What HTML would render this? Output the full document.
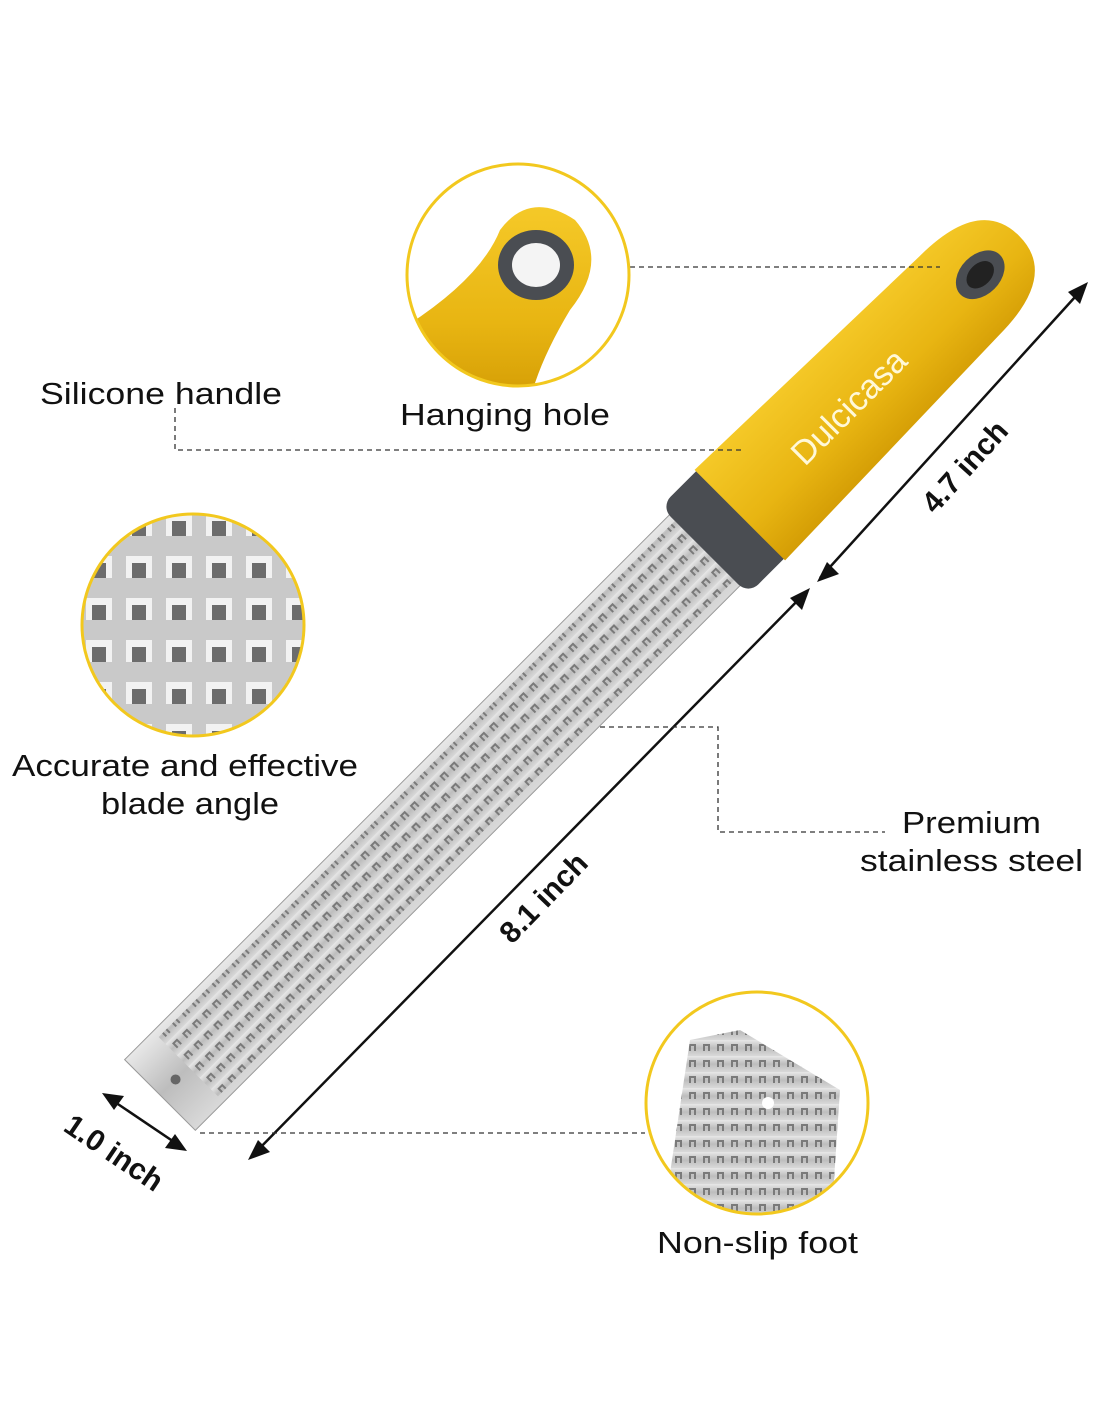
<!DOCTYPE html>
<html><head><meta charset="utf-8"><style>
html,body{margin:0;padding:0;background:#fff;}
svg{display:block;}
text{font-family:"Liberation Sans",sans-serif;fill:#111;}
</style></head><body>
<svg width="1100" height="1422" viewBox="0 0 1100 1422">
<defs>
<linearGradient id="steel" x1="0" y1="0" x2="0" y2="1">
<stop offset="0" stop-color="#e8e8e8"/><stop offset="0.5" stop-color="#bdbdbd"/><stop offset="1" stop-color="#d9d9d9"/>
</linearGradient>
<linearGradient id="yel" x1="0" y1="0" x2="0" y2="1">
<stop offset="0" stop-color="#f5c928"/><stop offset="0.6" stop-color="#e8b512"/><stop offset="1" stop-color="#d49d05"/>
</linearGradient>
<pattern id="holes" width="14" height="16" patternUnits="userSpaceOnUse">
<rect width="14" height="16" fill="url(#steel)"/>
<path d="M3 4 h7 v7 h-2 v-5 h-3 v5 h-2z" fill="#7a7a7a"/>
</pattern>
<pattern id="bigholes" width="40" height="42" patternUnits="userSpaceOnUse">
<rect width="40" height="42" fill="#c9c9c9"/>
<path d="M6 10 h26 v22 h-6 v-15 h-14 v15 h-6z" fill="#f2f2f2"/>
<path d="M12 17 h14 v15 h-14z" fill="#6c6c6c"/>
</pattern>
</defs>

<g transform="translate(160,1095) rotate(-45)">
<rect x="0" y="-50" width="810" height="100" fill="url(#steel)" stroke="#999" stroke-width="1"/>
<rect x="40" y="-42" width="730" height="84" fill="url(#holes)"/>
<circle cx="22" cy="0" r="5" fill="#666"/>
<rect x="770" y="-62" width="70" height="124" rx="14" fill="#4a4d52"/>
<path d="M820 -64 L1130 -56 Q1215 -56 1215 0 Q1215 56 1130 56 L820 64 Z" fill="url(#yel)"/>
<ellipse cx="1160" cy="0" rx="28" ry="20" fill="#4a4d52"/>
<ellipse cx="1160" cy="0" rx="16" ry="11" fill="#222"/>
<text x="900" y="12" font-size="34" style="fill:#fff8d8">Dulcicasa</text>
</g>

<g stroke="#111" stroke-width="2.5">
<line x1="820" y1="578" x2="1085" y2="286"/>
<line x1="252" y1="1156" x2="806" y2="592"/>
<line x1="106" y1="1096" x2="183" y2="1148"/>
</g>
<g fill="#111">
<polygon points="1088,282 1068,292 1080,304"/>
<polygon points="817,582 827,562 839,574"/>
<polygon points="248,1160 258,1140 270,1152"/>
<polygon points="810,588 790,598 802,610"/>
<polygon points="102,1093 124,1096 114,1110"/>
<polygon points="187,1151 165,1148 175,1134"/>
</g>
<text x="0" y="0" font-size="30" font-weight="bold" transform="translate(935,515) rotate(-48)">4.7 inch</text>
<text x="0" y="0" font-size="30" font-weight="bold" transform="translate(512,945) rotate(-46)">8.1 inch</text>
<text x="0" y="0" font-size="30" font-weight="bold" transform="translate(62,1130) rotate(34)">1.0 inch</text>

<g stroke="#333" stroke-width="1.3" stroke-dasharray="5,4" fill="none">
<path d="M630 267 H940"/>
<path d="M175 408 V450 H745"/>
<path d="M600 727 H718 V832 H885"/>
<path d="M200 1133 H645"/>
</g>

<clipPath id="c1"><circle cx="518" cy="275" r="111"/></clipPath>
<g clip-path="url(#c1)">
<rect x="400" y="160" width="240" height="240" fill="#fff"/>
<path d="M400 330 Q480 280 500 230 Q530 190 575 220 Q610 260 570 310 Q540 360 530 400 L400 400Z" fill="url(#yel)"/>
<ellipse cx="536" cy="265" rx="38" ry="35" fill="#4a4d52"/>
<ellipse cx="536" cy="265" rx="24" ry="22" fill="#f4f4f4"/>
</g>
<circle cx="518" cy="275" r="111" fill="none" stroke="#f2c81e" stroke-width="3"/>

<clipPath id="c2"><circle cx="193" cy="625" r="111"/></clipPath>
<g clip-path="url(#c2)"><rect x="80" y="510" width="230" height="230" fill="url(#bigholes)"/></g>
<circle cx="193" cy="625" r="111" fill="none" stroke="#f2c81e" stroke-width="3"/>

<clipPath id="c3"><circle cx="757" cy="1103" r="111"/></clipPath>
<g clip-path="url(#c3)">
<rect x="640" y="990" width="240" height="240" fill="#fff"/>
<polygon points="690,1040 740,1030 840,1090 830,1240 660,1240" fill="url(#holes)"/>
<circle cx="768" cy="1103" r="6" fill="#fff"/>
</g>
<circle cx="757" cy="1103" r="111" fill="none" stroke="#f2c81e" stroke-width="3"/>

<g font-size="31">
<text x="40" y="404" textLength="242" lengthAdjust="spacingAndGlyphs">Silicone handle</text>
<text x="400" y="425" textLength="210" lengthAdjust="spacingAndGlyphs">Hanging hole</text>
<text x="12" y="776" textLength="346" lengthAdjust="spacingAndGlyphs">Accurate and effective</text>
<text x="101" y="814" textLength="178" lengthAdjust="spacingAndGlyphs">blade angle</text>
<text x="902" y="833" textLength="139" lengthAdjust="spacingAndGlyphs">Premium</text>
<text x="860" y="871" textLength="223" lengthAdjust="spacingAndGlyphs">stainless steel</text>
<text x="657" y="1253" textLength="201" lengthAdjust="spacingAndGlyphs">Non-slip foot</text>
</g>
</svg>
</body></html>
